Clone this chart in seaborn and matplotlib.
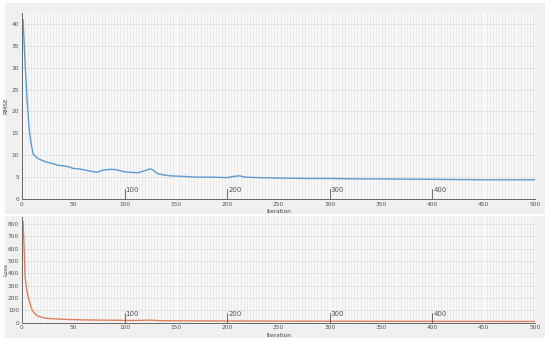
import numpy as np
import pandas as pd
import matplotlib
matplotlib.use('Agg')
import matplotlib.pyplot as plt
import matplotlib.transforms as mtransforms
from matplotlib.patches import Rectangle
import seaborn as sns

# data
rmse_iter = [1, 3, 5, 7, 9, 11, 13, 15, 18, 22, 26, 30, 35, 40, 45, 50, 55, 60, 66, 73,
             79, 86, 92, 100, 107, 113, 120, 125, 128, 132, 138, 145, 155, 170, 185, 200,
             207, 212, 218, 230, 250, 275, 300, 325, 350, 400, 450, 500]
rmse_vals = [41, 31, 22.5, 16, 12.5, 10.2, 9.8, 9.3, 9.0, 8.6, 8.3, 8.1, 7.7, 7.6, 7.4, 7.0,
             6.9, 6.7, 6.4, 6.1, 6.6, 6.8, 6.7, 6.2, 6.1, 6.0, 6.5, 6.9, 6.6, 5.8, 5.5, 5.3,
             5.2, 5.0, 5.0, 4.9, 5.2, 5.3, 5.0, 4.9, 4.8, 4.7, 4.7, 4.6, 4.6, 4.5, 4.4, 4.4]

loss_iter = [1, 2, 3, 4, 5, 6, 8, 10, 12, 15, 20, 25, 30, 40, 50, 60, 75, 90, 100, 110,
             120, 125, 130, 140, 160, 200, 250, 300, 400, 500]
loss_vals = [820, 620, 370, 300, 250, 210, 150, 100, 78, 55, 42, 35, 32, 28, 25, 23, 21,
             20, 18, 18, 20, 21, 18, 16, 15, 14, 13, 12, 11, 10]

epoch_marks = [100, 200, 300, 400]
rmse_ticks = [0, 5, 10, 15, 20, 25, 30, 35, 40]
loss_ticks = [0, 100, 200, 300, 400, 500, 600, 700, 800]
x_ticks = [0, 50, 100, 150, 200, 250, 300, 350, 400, 450, 500]

df_rmse = pd.DataFrame({'Iteration': rmse_iter, 'RMSE': rmse_vals})
df_loss = pd.DataFrame({'Iteration': loss_iter, 'Loss': loss_vals})

sns.set_theme(style='white')
plt.rcParams['font.family'] = ['DejaVu Sans']

fig = plt.figure(figsize=(5.5, 3.42), dpi=100)
fig.patch.set_facecolor('white')

# gray panels behind each plot
fig.add_artist(Rectangle((0.009, 0.375), 0.982, 0.615, transform=fig.transFigure,
                         facecolor='#f0f0f0', edgecolor='none', zorder=-10))
fig.add_artist(Rectangle((0.009, 0.012), 0.982, 0.355, transform=fig.transFigure,
                         facecolor='#f0f0f0', edgecolor='none', zorder=-10))

ax1 = fig.add_axes([0.04, 0.418, 0.9327, 0.544])
ax2 = fig.add_axes([0.04, 0.0564, 0.9327, 0.309])

# axes, frame, column, colour, yticks, ymax, epoch line height, xlabel offset
panels = [
    (ax1, df_rmse, 'RMSE', '#5a9bd0', rmse_ticks, 42.5, 0.055, -0.055),
    (ax2, df_loss, 'Loss', '#e0805a', loss_ticks, 855, 0.095, -0.1),
]

for ax, df, col, color, yt, ymax, mark_h, xl_off in panels:
    ax.set_facecolor('#f7f7f7')
    sns.lineplot(data=df, x='Iteration', y=col, ax=ax, color=color, linewidth=1.0)
    ax.set_xlim(0, 500)
    ax.set_ylim(0, ymax)
    ax.set_xticks(x_ticks)
    ax.set_yticks(yt)
    ax.set_xticks(np.arange(0, 501, 3), minor=True)
    ax.grid(which='major', axis='y', color='#dcdcdc', linewidth=0.5)
    ax.grid(which='minor', axis='x', color='#e0e0e0', linewidth=0.4)
    ax.tick_params(which='major', direction='in', length=4, width=0.6, color='#555555',
                   labelsize=4.2, labelcolor='#555555', pad=2)
    ax.tick_params(which='minor', length=0)
    for s in ['top', 'right']:
        ax.spines[s].set_visible(False)
    for s in ['left', 'bottom']:
        ax.spines[s].set_color('#666666')
        ax.spines[s].set_linewidth(0.7)
    ax.set_ylabel(col, fontsize=4.2, color='#444444')
    ax.yaxis.set_label_coords(-0.026, 0.5)
    ax.set_xlabel('Iteration', fontsize=4.2, color='#444444')
    ax.xaxis.set_label_coords(0.5, xl_off)

    trans = mtransforms.blended_transform_factory(ax.transData, ax.transAxes)
    for e in epoch_marks:
        ax.axvline(e, ymin=0, ymax=mark_h, color='#555555', linewidth=0.6)
        ax.text(e + 1, mark_h * 0.85, str(e), transform=trans, fontsize=5,
                color='#555555', ha='left', va='center')

plt.savefig('out.png', dpi=100, facecolor=fig.get_facecolor())
